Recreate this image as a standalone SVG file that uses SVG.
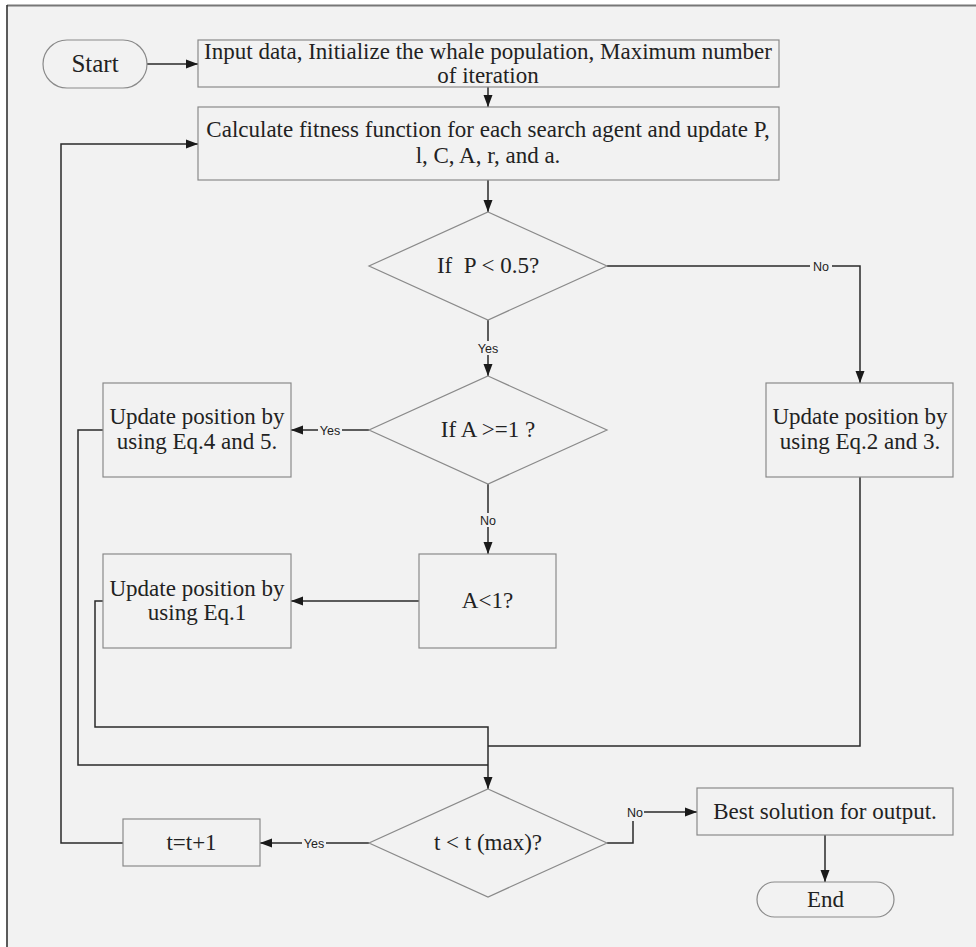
<svg xmlns="http://www.w3.org/2000/svg" width="976" height="947" viewBox="0 0 976 947">
<defs>
<marker id="ah" markerUnits="userSpaceOnUse" markerWidth="12" markerHeight="10" refX="12" refY="5" orient="auto">
<path d="M0,0.5 L12,5 L0,9.5 z" fill="#1a1a1a"/>
</marker>
<style>
.box{fill:#f2f2f2;stroke:#8a8a8a;stroke-width:1.2}
.t{font-family:"Liberation Serif","Times New Roman",serif;font-size:23px;fill:#222;text-anchor:middle;white-space:pre}
.c{fill:none;stroke:#2a2a2a;stroke-width:1.5}
.lb{font-family:"Liberation Sans",Arial,sans-serif;font-size:12.5px;fill:#222;text-anchor:middle}
.lbg{fill:#f2f2f2}
</style>
</defs>
<rect x="0" y="0" width="976" height="947" fill="#ffffff"/>
<rect x="7" y="5.5" width="980" height="960" fill="#f2f2f2"/>
<line x1="7" y1="5.5" x2="976" y2="5.5" stroke="#777" stroke-width="2"/>
<line x1="7" y1="5" x2="7" y2="947" stroke="#333" stroke-width="1.6"/>

<g id="connectors">
<line class="c" x1="146" y1="64" x2="198" y2="64" marker-end="url(#ah)"/>
<line class="c" x1="488" y1="87" x2="488" y2="107" marker-end="url(#ah)"/>
<line class="c" x1="488" y1="180" x2="488" y2="212" marker-end="url(#ah)"/>
<polyline class="c" points="607,266 860,266 860,383" marker-end="url(#ah)"/>
<line class="c" x1="488" y1="320" x2="488" y2="376" marker-end="url(#ah)"/>
<line class="c" x1="369" y1="430" x2="291" y2="430" marker-end="url(#ah)"/>
<line class="c" x1="488" y1="484" x2="488" y2="554" marker-end="url(#ah)"/>
<line class="c" x1="419" y1="601" x2="291" y2="601" marker-end="url(#ah)"/>
<polyline class="c" points="103,430 78,430 78,765 488,765"/>
<polyline class="c" points="103,601 95,601 95,727 488,727 488,789" marker-end="url(#ah)"/>
<polyline class="c" points="860,477 860,746 488,746"/>
<line class="c" x1="369" y1="843" x2="260" y2="843" marker-end="url(#ah)"/>
<polyline class="c" points="123,843 61,843 61,144 198,144" marker-end="url(#ah)"/>
<polyline class="c" points="607,843 633,843 633,812 697,812" marker-end="url(#ah)"/>
<line class="c" x1="825" y1="835" x2="825" y2="882" marker-end="url(#ah)"/>
<rect class="lbg" x="810" y="259" width="22" height="14"/>
<text class="lb" x="821" y="270.5">No</text>
<rect class="lbg" x="476" y="341" width="24" height="14"/>
<text class="lb" x="488" y="352.5">Yes</text>
<rect class="lbg" x="318" y="423" width="24" height="14"/>
<text class="lb" x="330" y="434.5">Yes</text>
<rect class="lbg" x="477" y="513" width="22" height="14"/>
<text class="lb" x="488" y="524.5">No</text>
<rect class="lbg" x="302" y="836" width="24" height="14"/>
<text class="lb" x="314" y="847.5">Yes</text>
<rect class="lbg" x="626" y="805" width="18" height="16"/>
<text class="lb" x="635" y="816.5">No</text>
</g>

<g id="start">
<rect class="box" x="43" y="40" width="104" height="48" rx="24" ry="24"/>
<text class="t" x="95" y="72" style="font-size:25px">Start</text>
</g>
<g id="input">
<rect class="box" x="198" y="40" width="581" height="47"/>
<text class="t" x="488" y="59">Input data, Initialize the whale population, Maximum number</text>
<text class="t" x="488" y="83">of iteration</text>
</g>
<g id="calc">
<rect class="box" x="198" y="107" width="581" height="73"/>
<text class="t" x="488" y="137">Calculate fitness function for each search agent and update P,</text>
<text class="t" x="488" y="163">l, C, A, r, and a.</text>
</g>
<g id="ifP">
<polygon class="box" points="488,212 607,266 488,320 369,266"/>
<text class="t" x="488" y="273">If  P &lt; 0.5?</text>
</g>
<g id="ifA">
<polygon class="box" points="488,376 607,430 488,484 369,430"/>
<text class="t" x="488" y="437">If A &gt;=1 ?</text>
</g>
<g id="eq45">
<rect class="box" x="103" y="383" width="188" height="94"/>
<text class="t" x="197" y="424">Update position by</text>
<text class="t" x="197" y="449">using Eq.4 and 5.</text>
</g>
<g id="eq23">
<rect class="box" x="766" y="383" width="187" height="94"/>
<text class="t" x="860" y="424">Update position by</text>
<text class="t" x="860" y="449">using Eq.2 and 3.</text>
</g>
<g id="alt1">
<rect class="box" x="419" y="554" width="137" height="94"/>
<text class="t" x="487.5" y="608">A&lt;1?</text>
</g>
<g id="eq1">
<rect class="box" x="103" y="554" width="188" height="94"/>
<text class="t" x="197" y="596">Update position by</text>
<text class="t" x="197" y="620">using Eq.1</text>
</g>
<g id="iftmax">
<polygon class="box" points="488,789 607,843 488,897 369,843"/>
<text class="t" x="488" y="850">t &lt; t (max)?</text>
</g>
<g id="tinc">
<rect class="box" x="123" y="819" width="137" height="47"/>
<text class="t" x="191.5" y="850">t=t+1</text>
</g>
<g id="best">
<rect class="box" x="697" y="788" width="256" height="47"/>
<text class="t" x="825" y="819">Best solution for output.</text>
</g>
<g id="end">
<rect class="box" x="757" y="882" width="137" height="35" rx="17.5" ry="17.5"/>
<text class="t" x="825.5" y="907">End</text>
</g>
</svg>
